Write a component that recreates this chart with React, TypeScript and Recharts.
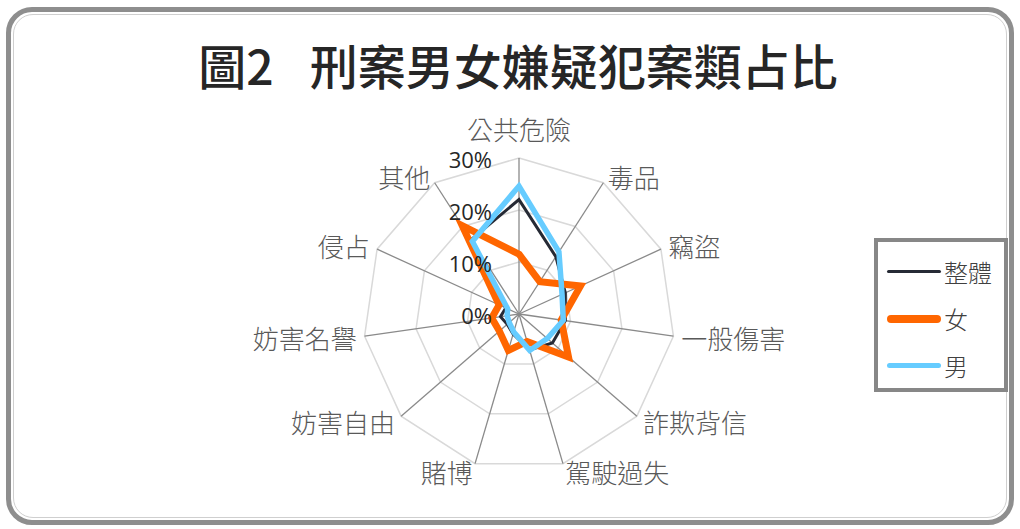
import React from 'react';
import { RadarChart, Radar, PolarGrid, PolarAngleAxis, PolarRadiusAxis, Legend } from 'recharts';

const categories = ['公共危險', '毒品', '竊盜', '一般傷害', '詐欺背信', '駕駛過失', '賭博', '妨害自由', '妨害名譽', '侵占', '其他'];
const overall = [22, 13.1, 9.8, 9, 8.5, 7.2, 4.0, 3.0, 3.6, 2.8, 17];
const female = [11.5, 7.4, 13, 8.2, 12.6, 5.5, 7.3, 5, 5.3, 4.2, 20.2];
const male = [24.6, 14.2, 9.1, 8.6, 7.2, 7.3, 3.6, 2.5, 2.3, 2.4, 16.6];
const radiusTicks = [0, 10, 20, 30];
const seriesNames = { overall: '整體', female: '女', male: '男' };

const data = categories.map((c, i) => ({ name: c, overall: overall[i], female: female[i], male: male[i] }));

const CX = 519;
const CY = 314;
const R = 156;
const CJK = '"Noto Sans CJK TC", "Noto Sans", sans-serif';

const AngleTick = (props: any) => {
  const { payload } = props;
  const ang = (payload.coordinate * Math.PI) / 180;
  const cos = Math.cos(ang);
  const sin = Math.sin(ang);
  const r = R + 8;
  const anchor: 'start' | 'end' | 'middle' = cos > 0.01 ? 'start' : cos < -0.01 ? 'end' : 'middle';
  const x = CX + r * cos;
  let y = CY - r * sin;
  if (anchor === 'middle') {
    y = CY - (R + 30);
  }
  return (
    <text x={x} y={y} textAnchor={anchor} dominantBaseline="central" fontSize={26} fill="#595959" fontFamily={CJK} fontWeight={300}>
      {payload.value}
    </text>
  );
};

const RadiusTick = (props: any) => {
  const { x, y, payload } = props;
  return (
    <text x={x - 27} y={y + 1} textAnchor="end" dominantBaseline="central" fontSize={22} fill="#262626" fontFamily='"Open Sans", "Noto Sans", sans-serif'>
      {payload.value + '%'}
    </text>
  );
};

const LegendContent = () => {
  const items = [
    { label: seriesNames.overall, color: '#262a35', w: 3 },
    { label: seriesNames.female, color: '#ff6600', w: 8 },
    { label: seriesNames.male, color: '#66ccff', w: 5 },
  ];
  return (
    <div style={{ width: 126, height: 140, border: '4px solid #878787', boxSizing: 'content-box', background: '#fff', paddingTop: 6 }}>
      {items.map((it) => (
        <div key={it.label} style={{ display: 'flex', alignItems: 'center', height: 47 }}>
          <div style={{ marginLeft: 9, width: 54, height: it.w, background: it.color, borderRadius: it.w / 2 }} />
          <span style={{ marginLeft: 3, fontSize: 24, color: '#404040', fontFamily: CJK, fontWeight: 300, lineHeight: '28px' }}>{it.label}</span>
        </div>
      ))}
    </div>
  );
};

export default function App() {
  return (
    <div style={{ position: 'absolute', left: 0, top: 0, width: 1020, height: 529, background: '#fff', overflow: 'hidden' }}>
      <div style={{ position: 'absolute', left: 6, top: 7, width: 1008, height: 518, border: '5px solid #8e8e8e', borderRadius: 26, boxSizing: 'border-box' }} />
      <div style={{ position: 'absolute', left: 13, top: 14, width: 994, height: 504, border: '1.5px solid #cfcfcf', borderRadius: 20, boxSizing: 'border-box' }} />
      <div style={{ position: 'absolute', left: 0, top: 34, width: 1036, textAlign: 'center', fontSize: 48, lineHeight: '60px', color: '#262626', fontFamily: CJK, fontWeight: 500, whiteSpace: 'pre' }}>
        <span>圖2</span>
        <span style={{ display: 'inline-block', width: 36 }} />
        <span>刑案男女嫌疑犯案類占比</span>
      </div>
      <div style={{ position: 'absolute', left: 0, top: 0 }}>
        <RadarChart width={1020} height={529} data={data} cx={CX} cy={CY} outerRadius={R} margin={{ top: 0, right: 0, bottom: 0, left: 0 }}>
          <PolarGrid gridType="polygon" radialLines={false} stroke="#d9d9d9" strokeWidth={1.5} />
          <PolarGrid gridType="polygon" polarRadius={[0]} stroke="#8a8a8a" strokeWidth={1.3} />
          <PolarAngleAxis dataKey="name" tick={AngleTick} tickLine={false} axisLine={false} />
          <PolarRadiusAxis angle={90} domain={[0, 30]} ticks={radiusTicks} tickCount={4} axisLine={false} tickLine={false} tick={RadiusTick} />
          <Radar name={seriesNames.overall} dataKey="overall" stroke="#262a35" strokeWidth={3} fill="none" fillOpacity={0} dot={false} isAnimationActive={false} />
          <Radar name={seriesNames.female} dataKey="female" stroke="#ff6600" strokeWidth={7} fill="none" fillOpacity={0} dot={false} isAnimationActive={false} />
          <Radar name={seriesNames.male} dataKey="male" stroke="#66ccff" strokeWidth={5.5} fill="none" fillOpacity={0} dot={false} isAnimationActive={false} />
          <Legend layout="vertical" align="right" verticalAlign="top" content={LegendContent} wrapperStyle={{ left: 874, top: 238, width: 134 }} />
        </RadarChart>
      </div>
    </div>
  );
}
